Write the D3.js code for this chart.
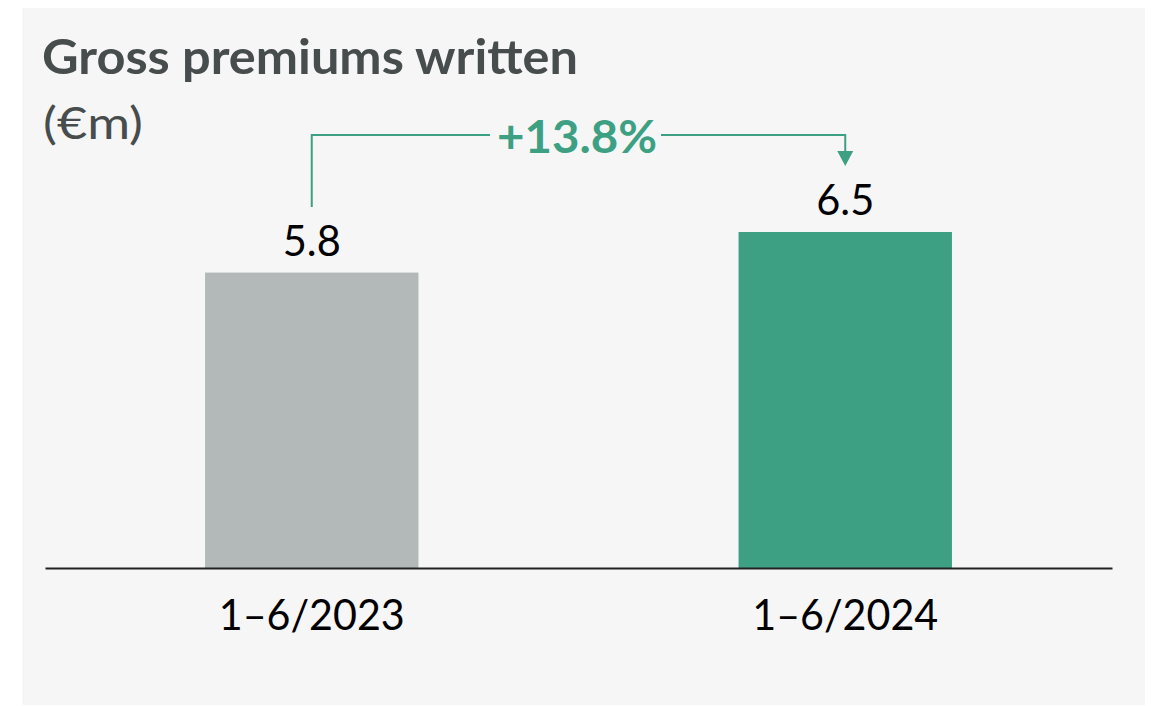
<!DOCTYPE html>
<html><head><meta charset="utf-8">
<script src="https://cdn.jsdelivr.net/npm/d3@7"></script>
<style>body{margin:0;background:#fff}svg{display:block}</style>
</head><body>
<svg id="c" width="1157" height="706"></svg>
<script>
const categories = ["1–6/2023", "1–6/2024"];
const values = [5.75, 6.54];
const barColors = ["#b3b8b8", "#3ea083"];
const titleText = "Gross premiums written";
const unitText = "(€m)";
const changeText = "+13.8%";

const svg = d3.select("#c");
const FONT = "Lato, 'Open Sans', sans-serif";
const green = "#3ea083";
const dark = "#474c4c";

svg.append("rect").attr("x",22).attr("y",8).attr("width",1123).attr("height",697).attr("fill","#f6f6f6");

const x = d3.scaleBand().domain(categories).range([45,1112]).paddingInner(0.6).paddingOuter(0.3);
const y = d3.scaleLinear().domain([0, d3.max(values)]).range([568, 232]);

function fitText(sel, w){ sel.attr("textLength", w).attr("lengthAdjust","spacingAndGlyphs"); }

svg.append("text").attr("x",42).attr("y",74).attr("font-family",FONT).attr("font-weight",700)
  .attr("font-size",47).attr("fill",dark).text(titleText).call(fitText,536);
svg.append("text").attr("x",43).attr("y",139).attr("font-family",FONT).attr("font-weight",400)
  .attr("font-size",44).attr("fill",dark).text(unitText).call(fitText,100);

svg.selectAll("rect.bar").data(values).join("rect").attr("class","bar")
  .attr("x",(d,i)=>x(categories[i])).attr("width",x.bandwidth())
  .attr("y",d=>y(d)).attr("height",d=>y(0)-y(d)).attr("fill",(d,i)=>barColors[i]);

const fmt = d3.format(".1f");
svg.selectAll("text.val").data(values).join("text").attr("class","val")
  .attr("x",(d,i)=>x(categories[i])+x.bandwidth()/2).attr("y",d=>y(d)-17)
  .attr("text-anchor","middle").attr("font-family",FONT).attr("font-size",43).attr("fill","#000")
  .text(d=>fmt(d)).each(function(){ d3.select(this).call(fitText,58); });

const axis = svg.append("g").attr("transform",`translate(0,${y(0)})`)
  .call(d3.axisBottom(x).tickSize(0).tickSizeOuter(0).tickPadding(0));
axis.select(".domain").attr("stroke","#222").attr("stroke-width",2);
axis.selectAll(".tick text").attr("font-family",FONT).attr("font-size",43).attr("fill","#000")
  .attr("dy",null).attr("y",62).each(function(){ d3.select(this).call(fitText,186); });

// annotation
const c1 = x(categories[0])+x.bandwidth()/2, c2 = x(categories[1])+x.bandwidth()/2;
const ly = 135;
svg.append("path").attr("d",`M${c1},207V${ly}H490`).attr("fill","none").attr("stroke",green).attr("stroke-width",2);
svg.append("path").attr("d",`M661,${ly}H${c2}V152`).attr("fill","none").attr("stroke",green).attr("stroke-width",2);
svg.append("path").attr("d",`M${c2-8},151L${c2+8},151L${c2},166Z`).attr("fill",green);
svg.append("text").attr("x",577).attr("y",153).attr("text-anchor","middle").attr("font-family",FONT)
  .attr("font-weight",700).attr("font-size",46).attr("fill",green).text(changeText).call(fitText,160);
</script>
</body></html>
